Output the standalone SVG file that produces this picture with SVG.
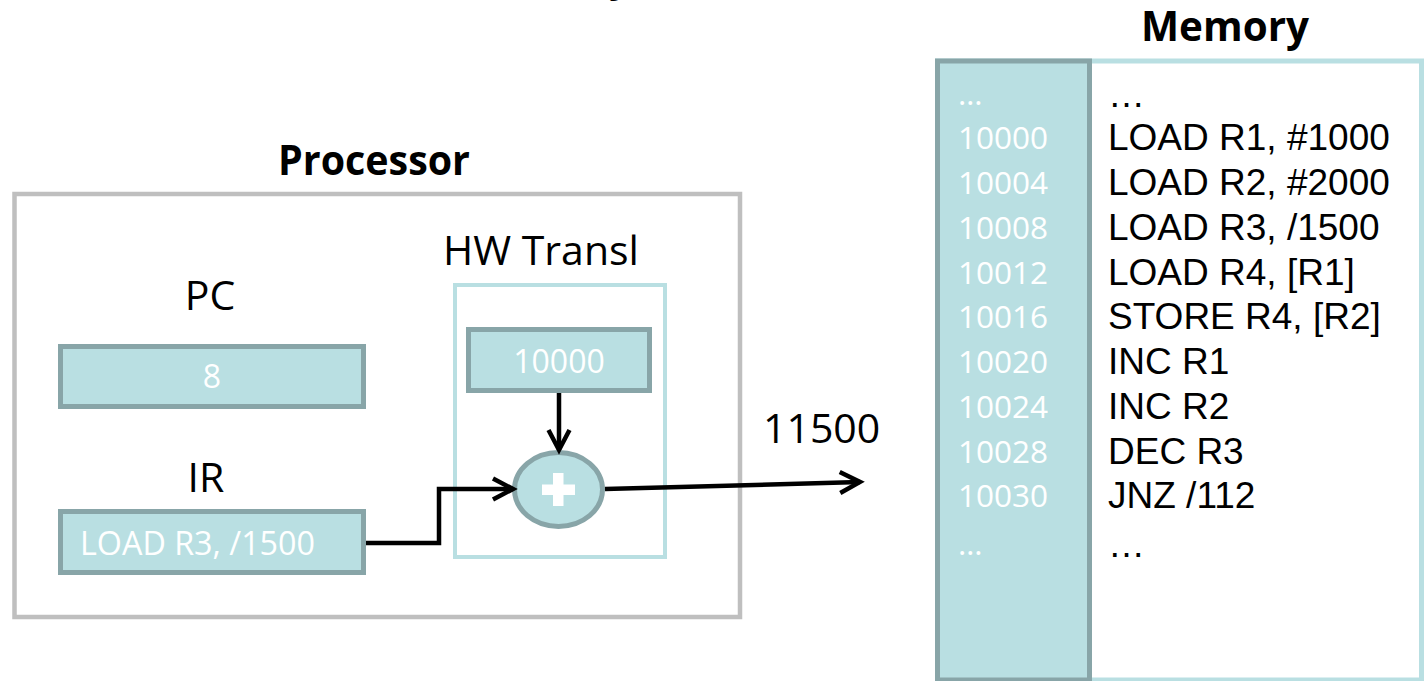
<svg xmlns="http://www.w3.org/2000/svg" width="1424" height="681" viewBox="0 0 1424 681">
<style>
.lbl{font-family:"Open Sans","Liberation Sans",sans-serif;font-size:41px;fill:#000}
.ttl{font-family:"Open Sans","Liberation Sans",sans-serif;font-size:41px;font-weight:bold;fill:#000}
.reg{fill:#b9dfe2;stroke:#88a5a8;stroke-width:5}
.wt{font-family:"Open Sans","Liberation Sans",sans-serif;font-size:32px;fill:#fff}
.addr{font-family:"Open Sans","Liberation Sans",sans-serif;font-size:31.5px;fill:#fff}
.ins{font-family:"Liberation Sans",Arial,sans-serif;font-size:37px;fill:#000}
.conn{fill:none;stroke:#000;stroke-width:4.5;stroke-linejoin:miter}
</style>
<defs>
<marker id="arr" viewBox="0 0 24 24" refX="21" refY="12" markerWidth="24" markerHeight="24" markerUnits="userSpaceOnUse" orient="auto" overflow="visible">
<path d="M1,1.5 L21,12 L1,22.5" fill="none" stroke="#000" stroke-width="4.5" stroke-linejoin="miter"/>
</marker>
</defs>
<rect width="1424" height="681" fill="#fff"/>
<text class="ttl" x="609" y="-9">y</text>

<g id="processor">
<rect x="14.5" y="194" width="725.5" height="423" fill="none" stroke="#bfbfbf" stroke-width="4.5"/>
<text class="ttl" x="374" y="175" text-anchor="middle" textLength="192" lengthAdjust="spacingAndGlyphs">Processor</text>
</g>

<g id="pc">
<text class="lbl" x="210" y="310" text-anchor="middle">PC</text>
<rect class="reg" x="60.5" y="346.5" width="303" height="60"/>
<text class="wt" x="212" y="388" text-anchor="middle">8</text>
</g>

<g id="ir">
<text class="lbl" x="206" y="492" text-anchor="middle">IR</text>
<rect class="reg" x="60.5" y="511.5" width="303" height="61"/>
<text class="wt" x="80" y="555" textLength="235" lengthAdjust="spacingAndGlyphs">LOAD R3, /1500</text>
</g>

<g id="hwtransl">
<text class="lbl" x="541" y="265" text-anchor="middle">HW Transl</text>
<rect x="455" y="285" width="210" height="272" fill="none" stroke="#b9dfe2" stroke-width="4"/>
</g>

<g id="base">
<rect class="reg" x="468.5" y="329.5" width="181" height="61"/>
<text class="wt" x="559" y="373" text-anchor="middle">10000</text>
</g>

<g id="adder">
<ellipse cx="558.5" cy="489.5" rx="44" ry="37" fill="#b9dfe2" stroke="#88a5a8" stroke-width="5"/>
<rect x="542" y="484.5" width="33" height="10.5" fill="#fff"/>
<rect x="553" y="473" width="10.5" height="33" fill="#fff"/>
</g>

<g id="out-label">
<text class="lbl" x="763" y="443">11500</text>
</g>

<g id="connectors">
<path class="conn" d="M559,393 V450" marker-end="url(#arr)"/>
<path class="conn" d="M366,543 H439 V489 H513" marker-end="url(#arr)"/>
<path class="conn" d="M605,489 L860,482" marker-end="url(#arr)"/>
</g>

<g id="memory">
<text class="ttl" x="1225" y="41" text-anchor="middle" textLength="168" lengthAdjust="spacingAndGlyphs">Memory</text>
<rect x="937.5" y="61" width="484" height="619" fill="#fff" stroke="#b9dfe2" stroke-width="5"/>
<rect class="reg" x="937.5" y="61" width="152" height="619"/>
<g id="addresses">
<text class="addr" x="958" y="105">…</text>
<text class="addr" x="958" y="149">10000</text>
<text class="addr" x="958" y="194">10004</text>
<text class="addr" x="958" y="239">10008</text>
<text class="addr" x="958" y="284">10012</text>
<text class="addr" x="958" y="328">10016</text>
<text class="addr" x="958" y="373">10020</text>
<text class="addr" x="958" y="418">10024</text>
<text class="addr" x="958" y="463">10028</text>
<text class="addr" x="958" y="507">10030</text>
<text class="addr" x="958" y="555">…</text>
</g>
<g id="instructions">
<text class="ins" x="1108" y="107">…</text>
<text class="ins" x="1108" y="150">LOAD R1, #1000</text>
<text class="ins" x="1108" y="195">LOAD R2, #2000</text>
<text class="ins" x="1108" y="240">LOAD R3, /1500</text>
<text class="ins" x="1108" y="285">LOAD R4, [R1]</text>
<text class="ins" x="1108" y="329">STORE R4, [R2]</text>
<text class="ins" x="1108" y="374">INC R1</text>
<text class="ins" x="1108" y="419">INC R2</text>
<text class="ins" x="1108" y="464">DEC R3</text>
<text class="ins" x="1108" y="508">JNZ /112</text>
<text class="ins" x="1108" y="557">…</text>
</g>
</g>
</svg>
